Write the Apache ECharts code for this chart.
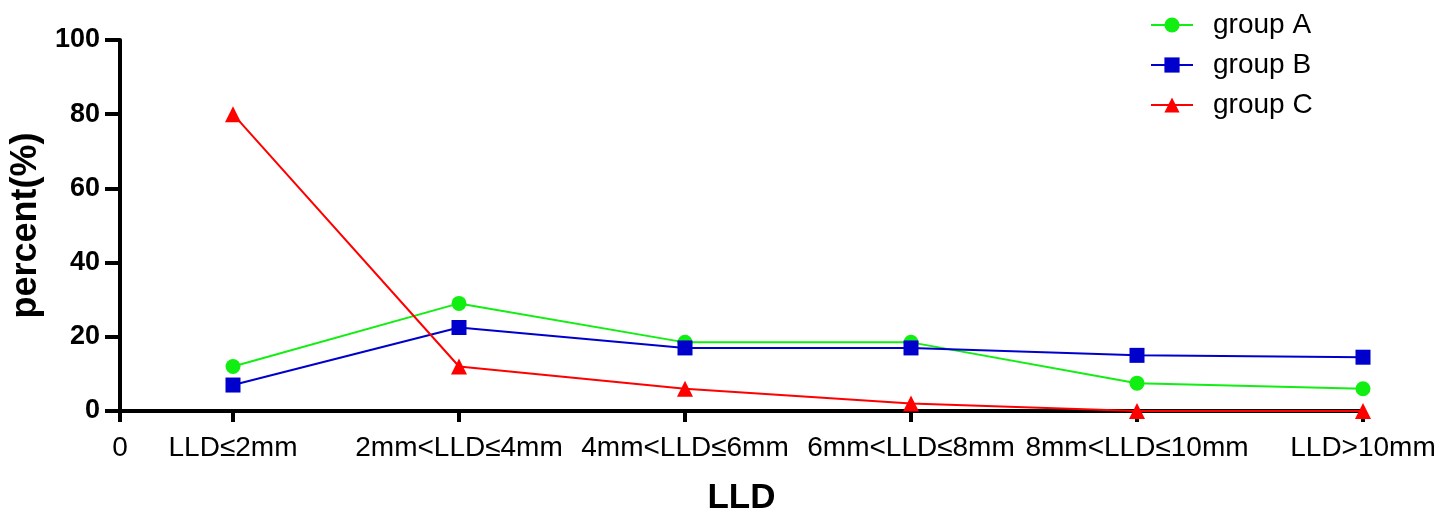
<!DOCTYPE html>
<html>
<head>
<meta charset="utf-8">
<script src="https://cdn.jsdelivr.net/npm/echarts@6/dist/echarts.min.js"></script>
<style>html,body{margin:0;padding:0;background:#fff;overflow:hidden}#c{width:100vw;height:100vh}</style>
</head>
<body>
<div id="c"></div>
<script>
const categories = ['LLD≤2mm', '2mm<LLD≤4mm', '4mm<LLD≤6mm', '6mm<LLD≤8mm', '8mm<LLD≤10mm', 'LLD>10mm'];
const groupA = [12, 29, 18.5, 18.5, 7.5, 6];
const groupB = [7, 22.5, 17, 17, 15, 14.5];
const groupC = [80, 12, 6, 2, 0, 0];
const yTicks = [0, 20, 40, 60, 80, 100];

const catPos = categories.map((c, i) => i + 0.5);
const xTickValues = [0].concat(catPos);
const toPairs = arr => arr.map((v, i) => [catPos[i], v]);
const font = '"Liberation Sans", Arial, sans-serif';

const chart = echarts.init(document.getElementById('c'));
chart.setOption({
  animation: false,
  backgroundColor: '#fff',
  grid: { left: 120, right: 93, top: 40, bottom: 104, containLabel: false },
  legend: {
    orient: 'vertical', left: 1145, top: 5, itemGap: 10,
    itemWidth: 42, itemHeight: 19,
    textStyle: { fontFamily: font, fontSize: 28, lineHeight: 30, color: '#000', padding: [0, 0, 0, 15] },
    data: ['group A', 'group B', 'group C']
  },
  xAxis: {
    type: 'value', min: 0, max: 5.5,
    name: 'LLD', nameLocation: 'middle', nameGap: 70,
    nameTextStyle: { fontFamily: font, fontSize: 35, fontWeight: 'bold', color: '#000' },
    axisLine: { show: true, lineStyle: { color: '#000', width: 4 } },
    axisTick: { show: true, length: 11, lineStyle: { color: '#000', width: 4 }, customValues: xTickValues },
    axisLabel: {
      customValues: xTickValues, margin: 23,
      fontFamily: font, fontSize: 28, color: '#000',
      formatter: v => {
        if (Math.abs(v) < 1e-9) return '0';
        const idx = Math.round(v - 0.5);
        return categories[idx] !== undefined ? categories[idx] : '';
      }
    },
    splitLine: { show: false }
  },
  yAxis: {
    type: 'value', min: 0, max: 100, interval: 20,
    name: 'percent(%)', nameLocation: 'middle', nameGap: 68, nameRotate: 90,
    nameTextStyle: { fontFamily: font, fontSize: 36, fontWeight: 'bold', color: '#000' },
    axisLine: { show: true, lineStyle: { color: '#000', width: 4 } },
    axisTick: { show: true, length: 15, lineStyle: { color: '#000', width: 4 } },
    axisLabel: {
      margin: 20, fontFamily: font, fontSize: 27, fontWeight: 'bold', color: '#000',
      formatter: v => yTicks.includes(v) ? String(v) : ''
    },
    splitLine: { show: false }
  },
  series: [
    { name: 'group A', type: 'line', data: toPairs(groupA), symbol: 'circle', symbolSize: 15,
      lineStyle: { color: '#11ee11', width: 2 }, itemStyle: { color: '#11ee11' }, z: 3 },
    { name: 'group B', type: 'line', data: toPairs(groupB), symbol: 'rect', symbolSize: 15,
      lineStyle: { color: '#0000cc', width: 2 }, itemStyle: { color: '#0000cc' }, z: 3 },
    { name: 'group C', type: 'line', data: toPairs(groupC), symbol: 'triangle', symbolSize: 16,
      lineStyle: { color: '#ff0000', width: 2 }, itemStyle: { color: '#ff0000' }, z: 4 }
  ]
});
</script>
</body>
</html>
